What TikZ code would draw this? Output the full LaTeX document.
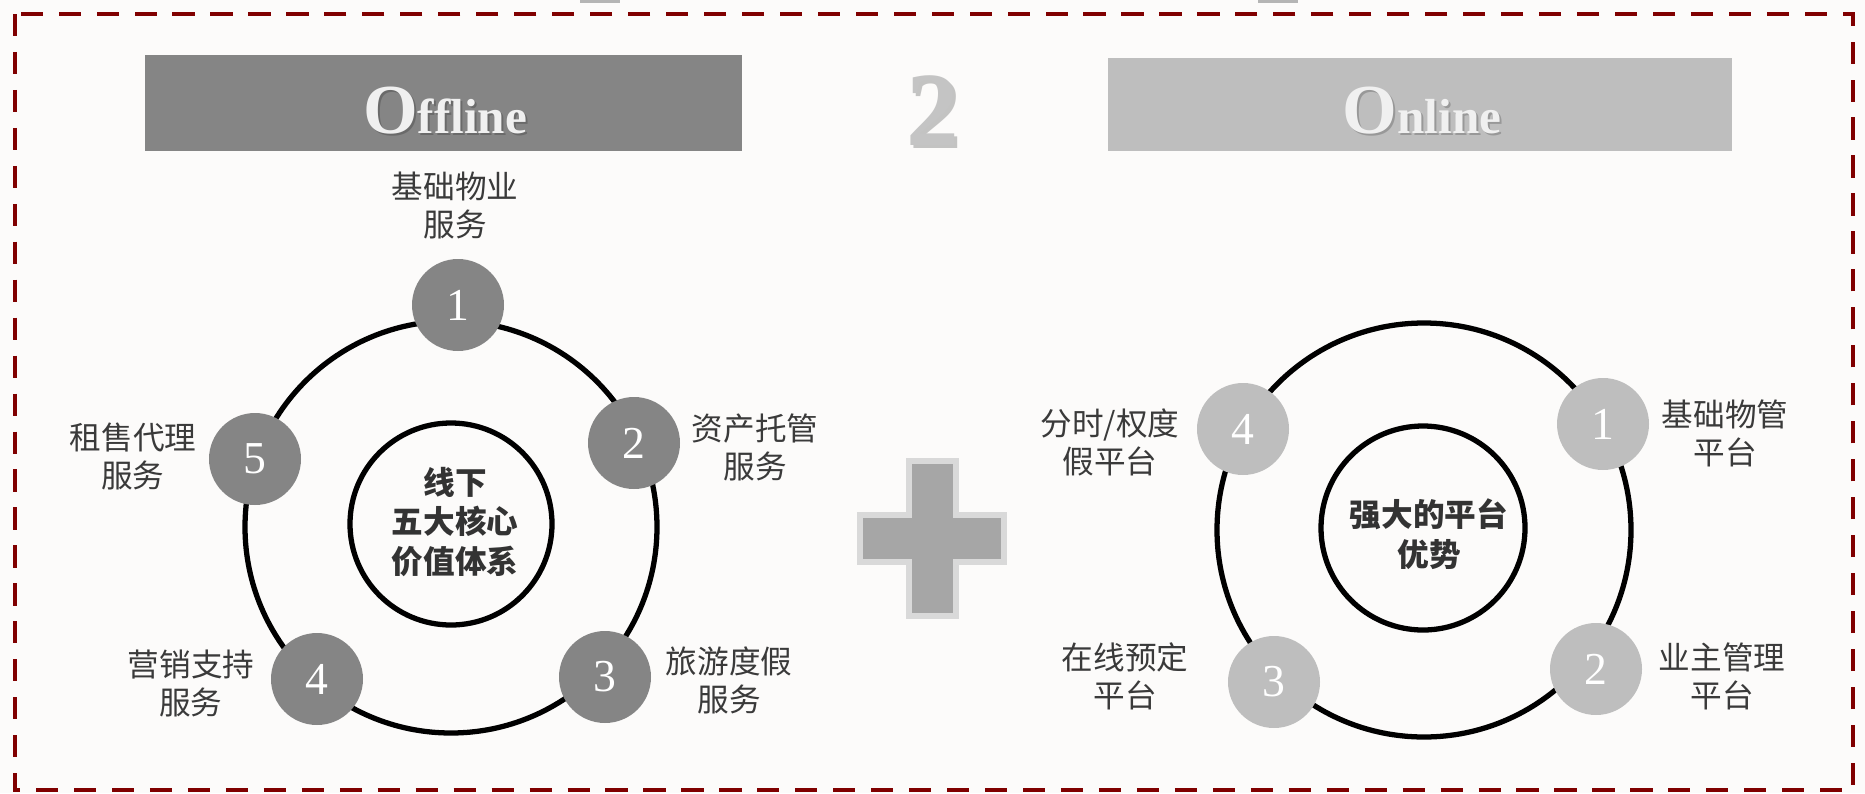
\documentclass[tikz,border=0pt]{standalone}
\usepackage{fontspec}
\setmainfont{Liberation Serif}
\newfontfamily\cjk{Noto Sans CJK SC}
\usepackage{tikz}

\definecolor{borderred}{RGB}{128,0,0}
\definecolor{paper}{RGB}{252,251,250}
\definecolor{offgray}{RGB}{133,133,133}
\definecolor{ongray}{RGB}{190,190,190}
\definecolor{txtgray}{RGB}{58,58,58}
\definecolor{crossin}{RGB}{166,166,166}
\definecolor{crossout}{RGB}{217,217,217}
\definecolor{twogray}{RGB}{196,196,196}

\tikzset{
  ring/.style={draw=black,line width=1.5pt},
  numdark/.style={circle,fill=offgray,minimum size=0.92cm,inner sep=0pt,
    text=white,font=\fontsize{13}{13}\selectfont},
  numlight/.style={numdark,fill=ongray},
  lbl/.style={align=center,text=txtgray,font=\cjk\fontsize{9}{10.8}\selectfont},
  hub/.style={align=center,text=black!80,font=\cjk\bfseries\fontsize{9}{11.2}\selectfont},
  bannertxt/.style={anchor=base,font=\bfseries},
}

\begin{document}
\begin{tikzpicture}
\useasboundingbox (0,0) rectangle (18.65,7.93);
\fill[paper] (0,0) rectangle (18.65,7.93);

% frame and the two cut-off bits on the top edge
\fill[black!29] (5.80,7.93) rectangle (6.20,7.90);
\fill[black!29] (12.58,7.93) rectangle (12.98,7.90);
\draw[borderred,line width=1.4pt,dash pattern=on 6.3pt off 4.5pt]
  (0.15,7.79) rectangle (18.53,0.03);

% banners
\fill[offgray] (1.45,7.38) rectangle (7.42,6.42);
\fill[ongray] (11.08,7.35) rectangle (17.32,6.42);
\node[bannertxt,text=black!65,opacity=0.6] (offshade) at (4.47,6.575)
  {{\fontsize{20}{20}\selectfont O}{\fontsize{14}{14}\selectfont ffline}};
\node[bannertxt,text=white!94!black] (offtitle) at (4.45,6.60)
  {{\fontsize{20}{20}\selectfont O}{\fontsize{14}{14}\selectfont ffline}};
\node[bannertxt,text=black!50,opacity=0.6] (onshade) at (14.24,6.575)
  {{\fontsize{20}{20}\selectfont O}{\fontsize{14}{14}\selectfont nline}};
\node[bannertxt,text=white!94!black] (ontitle) at (14.22,6.60)
  {{\fontsize{20}{20}\selectfont O}{\fontsize{14}{14}\selectfont nline}};

% the 2 and the plus
\node[font=\bfseries\fontsize{30}{30}\selectfont,text=black!45,opacity=0.5] (twoshade) at (9.355,6.79) {2};
\node[font=\bfseries\fontsize{30}{30}\selectfont,text=twogray] (two) at (9.33,6.82) {2};
\draw[fill=crossin,draw=crossout,line width=0.06cm]
  (9.085,3.32) -- (9.555,3.32) -- (9.555,2.78) -- (10.04,2.78) -- (10.04,2.31)
  -- (9.555,2.31) -- (9.555,1.77) -- (9.085,1.77) -- (9.085,2.31) -- (8.60,2.31)
  -- (8.60,2.78) -- (9.085,2.78) -- cycle;

% offline wheel
\draw[ring] (4.51,2.66) circle (2.06);
\draw[ring] (4.51,2.69) circle (1.01);
\node[hub] (offhub) at (4.55,2.71) {线下\\五大核心\\价值体系};
\node[numdark] (off1) at (4.58,4.88) {1};
\node[numdark] (off2) at (6.34,3.50) {2};
\node[numdark] (off3) at (6.05,1.16) {3};
\node[numdark] (off4) at (3.17,1.14) {4};
\node[numdark] (off5) at (2.55,3.34) {5};
\node[lbl] (offlbl1) at (4.55,5.875) {基础物业\\服务};
\node[lbl] (offlbl2) at (7.55,3.46) {资产托管\\服务};
\node[lbl] (offlbl3) at (7.29,1.13) {旅游度假\\服务};
\node[lbl] (offlbl4) at (1.91,1.10) {营销支持\\服务};
\node[lbl] (offlbl5) at (1.33,3.365) {租售代理\\服务};

% online wheel
\draw[ring] (14.24,2.63) circle (2.07);
\draw[ring] (14.23,2.65) circle (1.02);
\node[hub] (onhub) at (14.29,2.59) {强大的平台\\优势};
\node[numlight] (on1) at (16.03,3.69) {1};
\node[numlight] (on2) at (15.96,1.24) {2};
\node[numlight] (on3) at (12.74,1.11) {3};
\node[numlight] (on4) at (12.43,3.64) {4};
\node[lbl] (onlbl1) at (17.25,3.60) {基础物管\\平台};
\node[lbl] (onlbl2) at (17.22,1.165) {业主管理\\平台};
\node[lbl] (onlbl3) at (11.25,1.165) {在线预定\\平台};
\node[lbl] (onlbl4) at (11.10,3.51) {分时/权度\\假平台};
\end{tikzpicture}
\end{document}
